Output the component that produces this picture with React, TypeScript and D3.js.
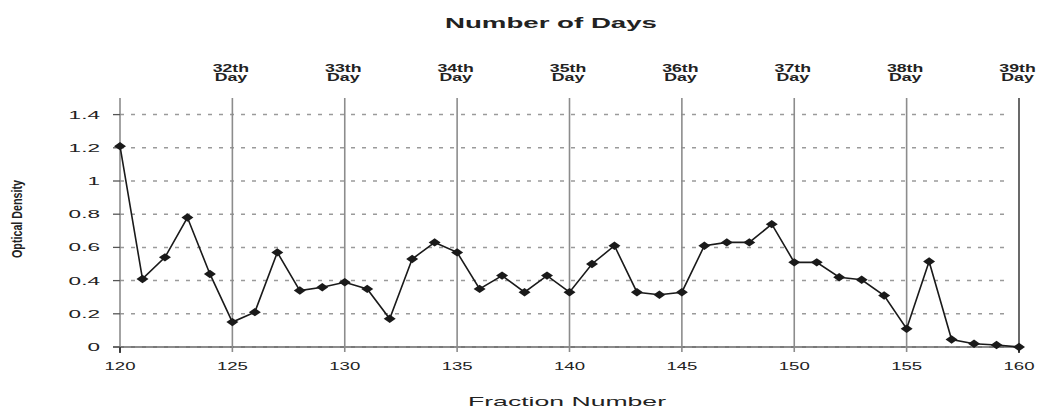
import React from "react";
import * as d3 from "d3";

const fractions = [120,121,122,123,124,125,126,127,128,129,130,131,132,133,134,135,136,137,138,139,140,141,142,143,144,145,146,147,148,149,150,151,152,153,154,155,156,157,158,159,160];
const density = [1.21,0.41,0.54,0.78,0.44,0.15,0.21,0.57,0.34,0.36,0.39,0.35,0.17,0.53,0.63,0.57,0.35,0.43,0.33,0.43,0.33,0.50,0.61,0.33,0.315,0.33,0.61,0.63,0.63,0.74,0.51,0.51,0.42,0.405,0.31,0.11,0.515,0.045,0.02,0.012,0.0];
const dayPositions = [125,130,135,140,145,150,155,160];
const dayLabels = ["32th","33th","34th","35th","36th","37th","38th","39th"];
const yTicks = [0,0.2,0.4,0.6,0.8,1,1.2,1.4];
const xTicks = [120,125,130,135,140,145,150,155,160];

export default function App() {
  const W = 1037, H = 410;
  const x = d3.scaleLinear().domain([120, 160]).range([120, 1019]);
  const y = d3.scaleLinear().domain([0, 1.5]).range([347, 98]);
  const line = d3.line<number>().x((_, i) => x(fractions[i])).y((d) => y(d));
  const font = "'Liberation Sans', Arial, sans-serif";
  const diamond = (cx: number, cy: number) =>
    `M${cx - 6},${cy} L${cx},${cy - 4.2} L${cx + 6},${cy} L${cx},${cy + 4.2} Z`;
  return (
    <svg width={W} height={H} style={{ position: "absolute", left: 0, top: 0, background: "#fff" }}>
      <text x={551} y={28} textAnchor="middle" fontFamily={font} fontWeight="bold" fontSize={15.5} fill="#222" textLength={212} lengthAdjust="spacingAndGlyphs">Number of Days</text>
      {/* horizontal dashed grid */}
      {yTicks.map((t) => (
        <line key={"g" + t} x1={x(120)} x2={1010} y1={y(t)} y2={y(t)} stroke="#9a9a9a" strokeWidth={1.5} strokeDasharray="4,7" />
      ))}
      {/* baseline */}
      <line x1={113} x2={x(160)} y1={y(0)} y2={y(0)} stroke="#666" strokeWidth={1.3} />
      {/* vertical day lines */}
      {dayPositions.map((d) => (
        <line key={"v" + d} x1={x(d)} x2={x(d)} y1={y(1.5)} y2={352} stroke={d === 160 ? "#444" : "#8c8c8c"} strokeWidth={1.6} />
      ))}
      {/* y axis */}
      <line x1={x(120)} x2={x(120)} y1={y(1.5)} y2={352} stroke="#8c8c8c" strokeWidth={1.6} />
      <line x1={x(120)} x2={x(120)} y1={y(0)} y2={353} stroke="#222" strokeWidth={1.6} />
      <line x1={x(160)} x2={x(160)} y1={y(0)} y2={353} stroke="#222" strokeWidth={1.6} />
      {yTicks.map((t) => (
        <g key={"yt" + t}>
          <line x1={113} x2={x(120)} y1={y(t)} y2={y(t)} stroke="#555" strokeWidth={1.3} />
          <text transform={`translate(100,${y(t) + 4}) scale(2.15,1)`} textAnchor="end" fontFamily={font} fontSize={10.5} fill="#222">{String(t)}</text>
        </g>
      ))}
      {xTicks.map((t) => (
        <text key={"xt" + t} x={x(t)} y={370} textAnchor="middle" fontFamily={font} fontSize={11} fill="#222" textLength={31} lengthAdjust="spacingAndGlyphs">{String(t)}</text>
      ))}
      {dayPositions.map((d, i) => (
        <g key={"dl" + d} transform={`translate(${x(d) - 1.5},0) scale(1.72,1)`}>
          <text x={0} y={72} textAnchor="middle" fontFamily={font} fontWeight="bold" fontSize={10.3} fill="#222">{dayLabels[i]}</text>
          <text x={0} y={81.5} textAnchor="middle" fontFamily={font} fontWeight="bold" fontSize={10.3} fill="#222">Day</text>
        </g>
      ))}
      <path d={line(density) || ""} fill="none" stroke="#1a1a1a" strokeWidth={1.6} />
      {density.map((v, i) => (
        <path key={"m" + i} d={diamond(x(fractions[i]), y(v))} fill="#1a1a1a" />
      ))}
      <text x={567} y={406} textAnchor="middle" fontFamily={font} fontSize={13} fill="#222" textLength={198} lengthAdjust="spacingAndGlyphs">Fraction Number</text>
      <text transform="translate(22,219) rotate(-90)" textAnchor="middle" fontFamily="'Liberation Sans Narrow', 'Liberation Sans', Arial, sans-serif" fontWeight="bold" fontSize={14} fill="#222" textLength={78} lengthAdjust="spacingAndGlyphs">Optical Density</text>
    </svg>
  );
}
